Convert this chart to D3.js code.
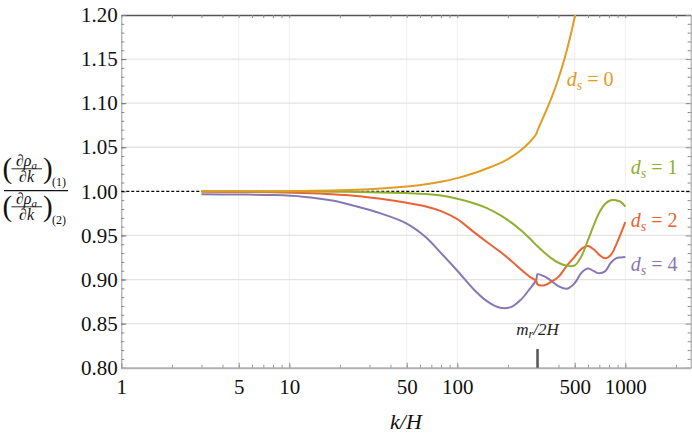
<!DOCTYPE html>
<html>
<head>
<meta charset="utf-8">
<script src="https://d3js.org/d3.v7.min.js"></script>
<style>
body { margin: 0; background: #fff; }
svg { display: block; }
text { font-family: "Liberation Serif", serif; }
</style>
</head>
<body>
<svg id="chart" width="692" height="436"></svg>
<script>
// values (k/H grid shared by all series)
var kGrid = [3, 5, 8, 12, 18, 25, 35, 50, 65, 80, 100, 125, 150, 180, 210, 240, 270, 295, 300,
    330, 360, 400, 450, 500, 550, 600, 650, 700, 760, 820, 880, 940, 1000];

var ratioDs0 = [1.0000, 1.0001, 1.0002, 1.0005, 1.0010, 1.0018, 1.0032, 1.0055, 1.0080, 1.0108,
    1.0150, 1.0205, 1.0260, 1.0320, 1.0390, 1.0470, 1.0560, 1.0650, 1.0690,
    1.0870, 1.1040, 1.1280, 1.1610, 1.1980, 1.2450, null, null, null, null, null, null, null, null];
var ratioDs1 = [1.0000, 1.0000, 0.9999, 0.9998, 0.9996, 0.9993, 0.9988, 0.9980, 0.9970, 0.9952,
    0.9915, 0.9865, 0.9810, 0.9730, 0.9645, 0.9555, 0.9465, 0.9390, 0.9378,
    0.9305, 0.9245, 0.9190, 0.9155, 0.9160, 0.9270, 0.9450, 0.9620, 0.9760, 0.9860, 0.9900, 0.9900, 0.9880, 0.9826];
var ratioDs2 = [0.9995, 0.9993, 0.9990, 0.9982, 0.9968, 0.9948, 0.9915, 0.9870, 0.9828, 0.9775,
    0.9685, 0.9540, 0.9425, 0.9315, 0.9210, 0.9110, 0.9030, 0.8985, 0.8945,
    0.8935, 0.8970, 0.9030, 0.9160, 0.9260, 0.9350, 0.9380, 0.9340, 0.9280, 0.9240, 0.9280, 0.9390, 0.9520, 0.9650];
var ratioDs4 = [0.9966, 0.9964, 0.9958, 0.9940, 0.9895, 0.9830, 0.9750, 0.9635, 0.9480, 0.9300,
    0.9100, 0.8890, 0.8755, 0.8680, 0.8690, 0.8775, 0.8895, 0.8995, 0.9060,
    0.9035, 0.8990, 0.8925, 0.8895, 0.8960, 0.9080, 0.9125, 0.9095, 0.9070, 0.9095, 0.9190, 0.9240, 0.9250, 0.9255];

var seriesLabels = ["0", "1", "2", "4"];
var seriesColors = ["#E19C24", "#8FB032", "#EB6235", "#8778B3"];
var xTickValues = [1, 5, 10, 50, 100, 500, 1000];
var xGridValues = [5, 10, 50, 100, 500, 1000];
var yTickValues = [0.80, 0.85, 0.90, 0.95, 1.00, 1.05, 1.10, 1.15, 1.20];
var markerK = 300;

var svg = d3.select("#chart");
var plotL = 121.3, plotR = 690.7, plotT = 15, plotB = 367.7;

var x = d3.scaleLog().domain([1, 2450]).range([plotL, plotR]);
var y = d3.scaleLinear().domain([0.8, 1.2]).range([plotB, plotT]);

var yMinor = d3.range(80, 121).map(function(d) { return d / 100; });
var xMinor = x.ticks();

// grid
svg.append("g").selectAll("line")
    .data(xGridValues).enter().append("line")
    .attr("x1", function(d) { return x(d); }).attr("x2", function(d) { return x(d); })
    .attr("y1", plotT).attr("y2", plotB)
    .attr("stroke", "#efefef").attr("stroke-width", 1);

svg.append("g").selectAll("line")
    .data(yTickValues.filter(function(d) { return d > 0.81 && d < 1.19 && Math.abs(d - 1) > 0.001; }))
    .enter().append("line")
    .attr("x1", plotL).attr("x2", plotR)
    .attr("y1", function(d) { return y(d); }).attr("y2", function(d) { return y(d); })
    .attr("stroke", "#e3e3e3").attr("stroke-width", 1.3);

// frame: top and right
var topAxis = svg.append("g").attr("transform", "translate(0," + plotT + ")")
    .call(d3.axisTop(x).tickValues(xMinor).tickSize(-3).tickSizeOuter(0).tickFormat(""));
topAxis.select(".domain").attr("stroke", "#555").attr("stroke-width", 1.3);
topAxis.selectAll(".tick line").attr("stroke", "#888");

var rightAxis = svg.append("g").attr("transform", "translate(" + plotR + ",0)")
    .call(d3.axisLeft(y).tickValues(yMinor).tickSize(3).tickSizeOuter(0).tickFormat(""));
rightAxis.select(".domain").attr("stroke", "#999");
rightAxis.selectAll(".tick line").attr("stroke", "#888");
rightAxis.selectAll(".tick line").filter(function(d) { return Math.round(d * 100) % 5 == 0; }).attr("x2", -5);

// left axis
var leftMinor = svg.append("g").attr("transform", "translate(" + plotL + ",0)")
    .call(d3.axisLeft(y).tickValues(yMinor).tickSize(-3).tickSizeOuter(0).tickFormat(""));
leftMinor.select(".domain").attr("stroke", "#999");
leftMinor.selectAll(".tick line").attr("stroke", "#888");

var leftAxis = svg.append("g").attr("transform", "translate(" + plotL + ",0)")
    .call(d3.axisLeft(y).tickValues(yTickValues).tickSize(-5).tickSizeOuter(0)
        .tickPadding(3.5).tickFormat(d3.format(".2f")));
leftAxis.select(".domain").remove();
leftAxis.selectAll(".tick line").attr("stroke", "#777");
leftAxis.selectAll("text").attr("font-family", "Liberation Serif").attr("font-size", 21).attr("fill", "#111");

// bottom axis
var botMinor = svg.append("g").attr("transform", "translate(0," + plotB + ")")
    .call(d3.axisBottom(x).tickValues(xMinor).tickSize(-3).tickSizeOuter(0).tickFormat(""));
botMinor.select(".domain").attr("stroke", "#b0b0b0").attr("stroke-width", 2);
botMinor.selectAll(".tick line").attr("stroke", "#999");

var botAxis = svg.append("g").attr("transform", "translate(0," + plotB + ")")
    .call(d3.axisBottom(x).tickValues(xTickValues).tickSize(-5).tickSizeOuter(0)
        .tickPadding(11.4).tickFormat(d3.format("d")));
botAxis.select(".domain").remove();
botAxis.selectAll(".tick line").attr("stroke", "#999");
botAxis.selectAll("text").attr("font-family", "Liberation Serif").attr("font-size", 21).attr("fill", "#111");

// dashed reference line at 1
svg.append("line")
    .attr("x1", plotL).attr("x2", plotR)
    .attr("y1", y(1)).attr("y2", y(1))
    .attr("stroke", "#000").attr("stroke-width", 1.1)
    .attr("stroke-dasharray", "3,2");

// curves
svg.append("clipPath").attr("id", "plotclip")
    .append("rect").attr("x", plotL).attr("y", plotT)
    .attr("width", plotR - plotL).attr("height", plotB - plotT);

var allSeries = [ratioDs0, ratioDs1, ratioDs2, ratioDs4];
var line = d3.line()
    .defined(function(d) { return d[1] != null; })
    .x(function(d) { return x(d[0]); })
    .y(function(d) { return y(d[1]); })
    .curve(d3.curveCatmullRom.alpha(0.5));

svg.append("g").attr("clip-path", "url(#plotclip)")
    .selectAll("path")
    .data(allSeries.slice().reverse()).enter().append("path")
    .attr("d", function(vals) { return line(kGrid.map(function(k, i) { return [k, vals[i]]; })); })
    .attr("fill", "none")
    .attr("stroke", function(d, i) { return seriesColors[3 - i]; })
    .attr("stroke-width", 2);

// curve labels
var labelPos = [[566.7, 86], [630.7, 174], [630.7, 226.7], [630.7, 270.7]];
seriesLabels.forEach(function(lab, i) {
    var t = svg.append("text")
        .attr("x", labelPos[i][0]).attr("y", labelPos[i][1])
        .attr("font-size", 20).attr("fill", seriesColors[i]);
    t.append("tspan").attr("font-style", "italic").text("d");
    t.append("tspan").attr("font-style", "italic").attr("font-size", 14).attr("dy", 4).text("s");
    t.append("tspan").attr("dy", -4).text(" = " + lab);
});

// m_r/2H marker
svg.append("rect")
    .attr("x", x(markerK) - 1.2).attr("y", 349)
    .attr("width", 2.5).attr("height", plotB - 349)
    .attr("fill", "#555");
var mt = svg.append("text")
    .attr("x", x(markerK)).attr("y", 335)
    .attr("text-anchor", "middle").attr("font-size", 17)
    .attr("font-style", "italic").attr("fill", "#222");
mt.append("tspan").text("m");
mt.append("tspan").attr("font-size", 12).attr("dy", 3).text("r");
mt.append("tspan").attr("dy", -3).text("/2H");

// x title
svg.append("text")
    .attr("x", (plotL + plotR) / 2).attr("y", 429)
    .attr("text-anchor", "middle").attr("font-size", 22)
    .attr("font-style", "italic").attr("fill", "#111")
    .text("k/H");

// y title: ratio of derivatives
var yl = svg.append("g").attr("fill", "#111");
function derivBlock(offset, sub) {
    yl.append("text").attr("x", 2.5).attr("y", 178 + offset).attr("font-size", 29).text("(");
    yl.append("text").attr("x", 43).attr("y", 178 + offset).attr("font-size", 29).text(")");
    var num = yl.append("text").attr("x", 26.5).attr("y", 166 + offset)
        .attr("text-anchor", "middle").attr("font-size", 16);
    num.append("tspan").text("\u2202");
    num.append("tspan").attr("font-style", "italic").text("\u03C1");
    num.append("tspan").attr("font-style", "italic").attr("font-size", 11).attr("dy", 2.5).text("a");
    yl.append("line").attr("x1", 11.5).attr("x2", 42)
        .attr("y1", 168.8 + offset).attr("y2", 168.8 + offset)
        .attr("stroke", "#111").attr("stroke-width", 0.9);
    var den = yl.append("text").attr("x", 26.5).attr("y", 182 + offset)
        .attr("text-anchor", "middle").attr("font-size", 16);
    den.append("tspan").text("\u2202");
    den.append("tspan").attr("font-style", "italic").text("k");
    yl.append("text").attr("x", 52).attr("y", 186 + offset).attr("font-size", 12).text(sub);
}
derivBlock(0, "(1)");
yl.append("line").attr("x1", 4).attr("x2", 68)
    .attr("y1", 190.7).attr("y2", 190.7)
    .attr("stroke", "#111").attr("stroke-width", 1.2);
derivBlock(38, "(2)");
</script>
</body>
</html>
